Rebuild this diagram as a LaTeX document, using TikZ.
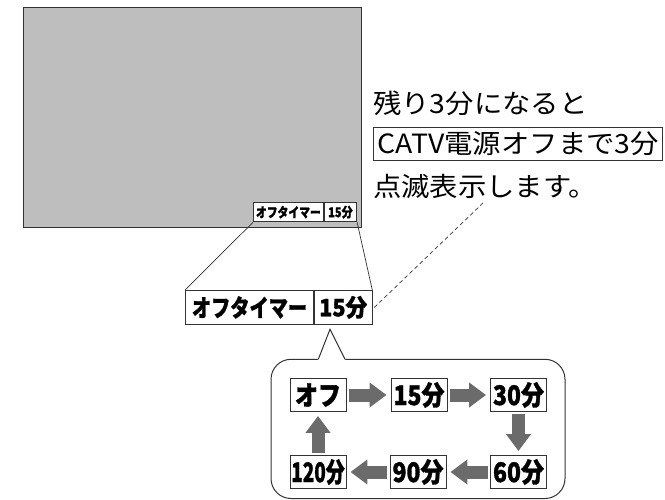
\documentclass[tikz,border=0pt]{standalone}
\usepackage{fontspec}
\usepackage{graphicx}
\usetikzlibrary{arrows.meta}
\newfontfamily\jp{Noto Sans CJK JP}[BoldFeatures={FakeBold=1.3}]
\definecolor{scr}{HTML}{BEBEBE}
\definecolor{arr}{HTML}{6B6B6B}
\definecolor{edge}{HTML}{333333}
\newcommand\wide[1]{\scalebox{1.07}[1]{#1}}
\tikzset{
 lbl/.style={draw=edge, line width=0.8pt, fill=white, inner sep=0pt, anchor=north west},
 cyc/.style={draw=edge, line width=0.9pt, fill=white, inner sep=0pt, minimum width=56pt, minimum height=33pt, font=\jp\bfseries\fontsize{27}{27}\selectfont},
 blk/.style={draw=arr, line width=13pt, -{Triangle[width=24pt,length=17pt]}, shorten <=2.5pt, shorten >=4pt},
 conn/.style={draw=edge, line width=0.7pt},
 body/.style={font=\jp\fontsize{26.5}{26.5}\selectfont, inner sep=0pt, anchor=west},
 smallf/.style={font=\jp\bfseries\fontsize{13.5}{13.5}\selectfont},
 bigf/.style={font=\jp\bfseries\fontsize{24}{24}\selectfont},
}
\begin{document}
\begin{tikzpicture}[x=1pt,y=-1pt]
\useasboundingbox (0,0) rectangle (665,500);
% screen
\node[draw=edge, line width=1.3pt, fill=scr, anchor=north west, minimum width=338pt, minimum height=220pt, inner sep=0pt] (screen) at (22.7,6.7) {};
% small label
\node[lbl, smallf, minimum width=70pt, minimum height=19.5pt] (slA) at (253,202) {\scalebox{0.8}[1]{オフタイマー}};
\node[lbl, smallf, minimum width=32.5pt, minimum height=19.5pt] (slB) at (slA.north east) {\scalebox{0.82}[1]{15分}};
% big label
\node[lbl, bigf, minimum width=128.3pt, minimum height=34pt] (blA) at (185,290) {\scalebox{0.8}[1]{オフタイマー}};
\node[lbl, bigf, minimum width=57.4pt, minimum height=34pt] (blB) at (blA.north east) {\scalebox{0.9}[1]{15分}};
% connectors
\draw[conn] (slA.south west) -- (blA.north west);
\draw[conn] (slB.south east) -- (blB.north east);
\coordinate (dashtop) at (483,203);
\draw[conn, dash pattern=on 4pt off 3pt] ([xshift=2pt]blB.east) -- (dashtop);
% text
\node[body] (t1) at (373,103) {\wide{残り3分になると}};
\node[body, draw=edge, line width=0.8pt, inner xsep=4pt, minimum height=33pt, anchor=north west] (t2) at (373.3,126.7) {\wide{CATV電源オフまで3分}};
\node[body] (t3) at (373,186) {\wide{点滅表示します。}};
% callout
\draw[edge, line width=1pt, rounded corners=20pt] (271,359.3) rectangle (565,498.5);
\fill[white] (317.6,360.4) -- (330,329.8) -- (345.7,360.4) -- cycle;
\draw[edge, line width=1pt] (318.3,359.3) -- (330,329.3) -- (345,359.3);
% cycle
\node[cyc] (c0) at (318,395) {\scalebox{0.85}[1]{オフ}};
\node[cyc] (c15) at (419,395) {\scalebox{0.85}[1]{15分}};
\node[cyc] (c30) at (518.5,395) {\scalebox{0.85}[1]{30分}};
\node[cyc] (c60) at (518.5,472) {\scalebox{0.85}[1]{60分}};
\node[cyc] (c90) at (418,472) {\scalebox{0.85}[1]{90分}};
\node[cyc] (c120) at (318,472) {\scalebox{0.7}[1]{120分}};
\draw[blk] (c0) -- (c15);
\draw[blk] (c15) -- (c30);
\draw[blk] (c30) -- (c60);
\draw[blk] (c60) -- (c90);
\draw[blk] (c90) -- (c120);
\draw[blk] (c120) -- (c0);
\end{tikzpicture}
\end{document}
